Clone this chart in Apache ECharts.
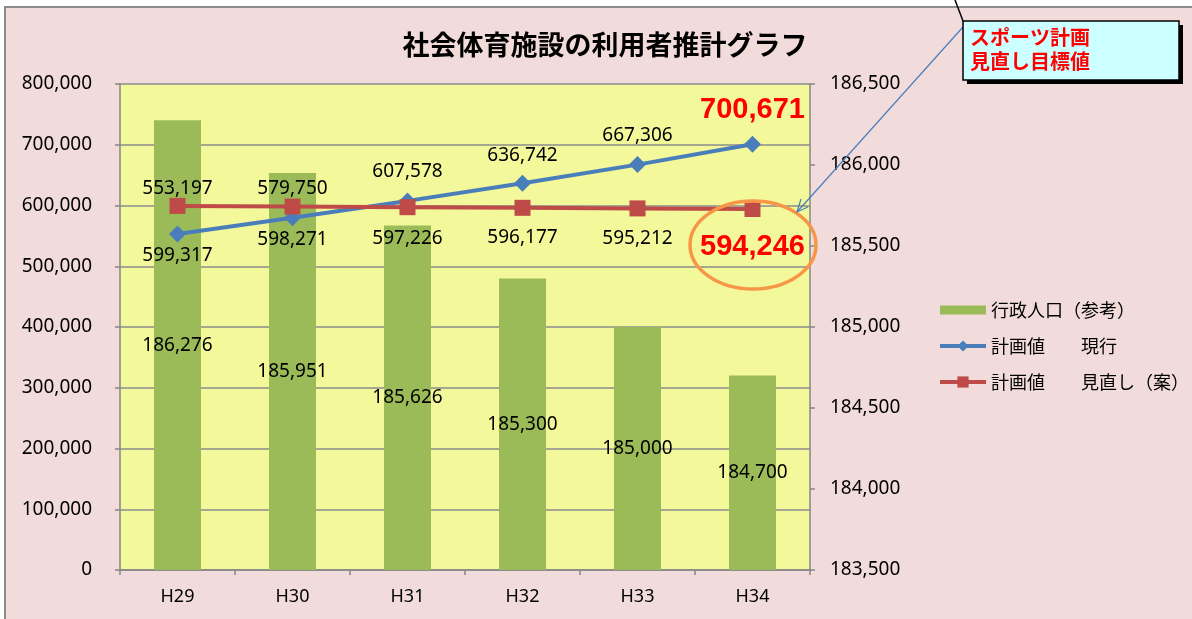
<!DOCTYPE html>
<html>
<head>
<meta charset="utf-8">
<script src="https://cdn.jsdelivr.net/npm/echarts@6/dist/echarts.min.js"></script>
<style>
html,body{margin:0;padding:0;background:#fff;}
#chart{width:1192px;height:619px;}
</style>
</head>
<body>
<div id="chart"></div>
<script>
// ---- data ----
const categories = ['H29', 'H30', 'H31', 'H32', 'H33', 'H34'];
const population = [186276, 185951, 185626, 185300, 185000, 184700];   // 行政人口（参考）, right axis
const planCurrent = [553197, 579750, 607578, 636742, 667306, 700671];   // 計画値 現行
const planRevised = [599317, 598271, 597226, 596177, 595212, 594246];   // 計画値 見直し（案）
const seriesNames = ['行政人口（参考）', '計画値　　現行', '計画値　　見直し（案）'];
const titleText = '社会体育施設の利用者推計グラフ';
const calloutLines = ['スポーツ計画', '見直し目標値'];

// ---- label placement (vertical offsets in px from the point) ----
const currentLabelDy = [-45, -29, -29, -28, -29, -34];
const revisedLabelDy = [50, 33, 31, 30, 30, 38];

const numFmt = v => v.toLocaleString('en-US');
const NUM_FONT = '"Noto Sans", sans-serif';
const CJK_FONT = '"Noto Sans CJK JP", sans-serif';
const bigLabel = { fontSize: 29, fontWeight: 'bold', color: '#ff0000', fontFamily: '"Liberation Sans", sans-serif' };

function lineData(values, dys) {
  return values.map((v, i) => {
    const last = i === values.length - 1;
    return {
      value: v,
      label: Object.assign({ offset: [0, dys[i]] }, last ? bigLabel : {})
    };
  });
}

const chart = echarts.init(document.getElementById('chart'), null, { renderer: 'canvas' });

// arrow geometry (annotation)
const tip = [797, 212], start = [963, 27];

const option = {
  backgroundColor: '#ffffff',
  animation: false,
  title: {
    text: titleText,
    left: 600, top: 26,
    textAlign: 'center',
    textStyle: { fontSize: 27, fontWeight: 'bold', color: '#000', fontFamily: CJK_FONT }
  },
  grid: {
    left: 120, right: 382, top: 84, bottom: 49,
    show: true, backgroundColor: '#f3f89b', borderWidth: 0
  },
  legend: {
    orient: 'vertical',
    left: 933, top: 296,
    itemWidth: 46, itemHeight: 14, itemGap: 18,
    textStyle: { fontSize: 18, color: '#000', fontFamily: CJK_FONT },
    data: [
      { name: seriesNames[0], icon: 'path://M0,0M0,2.5h46v9h-46zM46,14' },
      { name: seriesNames[1], lineStyle: { width: 4 } },
      { name: seriesNames[2], lineStyle: { width: 4 } }
    ]
  },
  xAxis: {
    type: 'category',
    data: categories,
    boundaryGap: true,
    axisLine: { lineStyle: { color: '#868686', width: 1.5 } },
    axisTick: { show: true, length: 5, lineStyle: { color: '#868686', width: 1.5 } },
    axisLabel: { fontSize: 18, color: '#000', margin: 18, fontFamily: NUM_FONT }
  },
  yAxis: [
    {
      type: 'value', min: 0, max: 800000, interval: 100000,
      axisLine: { show: true, lineStyle: { color: '#868686', width: 1.5 } },
      axisTick: { show: true, length: 5, lineStyle: { color: '#868686', width: 1.5 } },
      axisLabel: { fontSize: 19, color: '#000', margin: 28, formatter: numFmt, fontFamily: NUM_FONT },
      splitLine: { show: true, lineStyle: { color: '#8c8c8c', width: 1.5 } }
    },
    {
      type: 'value', min: 183500, max: 186500, interval: 500,
      position: 'right',
      axisLine: { show: true, lineStyle: { color: '#868686', width: 1.5 } },
      axisTick: { show: true, length: 5, lineStyle: { color: '#868686', width: 1.5 } },
      axisLabel: { fontSize: 19, color: '#000', margin: 20, formatter: numFmt, fontFamily: NUM_FONT },
      splitLine: { show: false }
    }
  ],
  series: [
    {
      name: seriesNames[0],
      type: 'bar',
      yAxisIndex: 1,
      data: population,
      barWidth: 47,
      itemStyle: { color: '#9bbb59' },
      label: {
        show: true, position: 'inside', color: '#000', fontSize: 19,
        fontFamily: NUM_FONT, formatter: p => numFmt(p.value)
      }
    },
    {
      name: seriesNames[1],
      type: 'line',
      yAxisIndex: 0,
      data: lineData(planCurrent, currentLabelDy),
      symbol: 'diamond', symbolSize: 17,
      lineStyle: { color: '#4a7ebb', width: 4 },
      itemStyle: { color: '#4a7ebb' },
      label: {
        show: true, position: 'inside', color: '#000', fontSize: 19,
        fontFamily: NUM_FONT, formatter: p => numFmt(p.value)
      }
    },
    {
      name: seriesNames[2],
      type: 'line',
      yAxisIndex: 0,
      data: lineData(planRevised, revisedLabelDy),
      symbol: 'rect', symbolSize: 16,
      lineStyle: { color: '#be4b48', width: 4 },
      itemStyle: { color: '#be4b48' },
      label: {
        show: true, position: 'inside', color: '#000', fontSize: 19,
        fontFamily: NUM_FONT, formatter: p => numFmt(p.value)
      }
    }
  ],
  graphic: [
    { type: 'rect', z: -10, silent: true,
      shape: { x: 5, y: 7, width: 1200, height: 640 },
      style: { fill: '#f2dcdb', stroke: '#8c8c8c', lineWidth: 2 } },
    { type: 'ellipse', z: 100, silent: true,
      shape: { cx: 753, cy: 245, rx: 63, ry: 44 },
      style: { fill: null, stroke: '#f79646', lineWidth: 3.5 } },
    { type: 'line', z: 100, silent: true,
      shape: { x1: 955, y1: 0, x2: 963, y2: 21 },
      style: { stroke: '#000', lineWidth: 1.5 } },
    { type: 'line', z: 100, silent: true,
      shape: { x1: start[0], y1: start[1], x2: tip[0], y2: tip[1] },
      style: { stroke: '#4a7ebb', lineWidth: 1.2 } },
    { type: 'polyline', z: 100, silent: true,
      shape: { points: [[808, 207], tip, [801, 199]] },
      style: { stroke: '#4a7ebb', lineWidth: 1.2, fill: null } },
    { type: 'rect', z: 100, silent: true,
      shape: { x: 967, y: 25, width: 216, height: 59 },
      style: { fill: '#000' } },
    { type: 'rect', z: 101, silent: true,
      shape: { x: 963, y: 21, width: 216, height: 59 },
      style: { fill: '#ccffff', stroke: '#000', lineWidth: 1.5 } },
    { type: 'text', z: 102, silent: true, x: 970, y: 37,
      style: { text: calloutLines[0], fill: '#ff0000', fontSize: 20, fontWeight: 'bold',
               fontFamily: CJK_FONT, verticalAlign: 'middle', align: 'left' } },
    { type: 'text', z: 102, silent: true, x: 970, y: 61,
      style: { text: calloutLines[1], fill: '#ff0000', fontSize: 20, fontWeight: 'bold',
               fontFamily: CJK_FONT, verticalAlign: 'middle', align: 'left' } }
  ]
};

chart.setOption(option);
</script>
</body>
</html>
